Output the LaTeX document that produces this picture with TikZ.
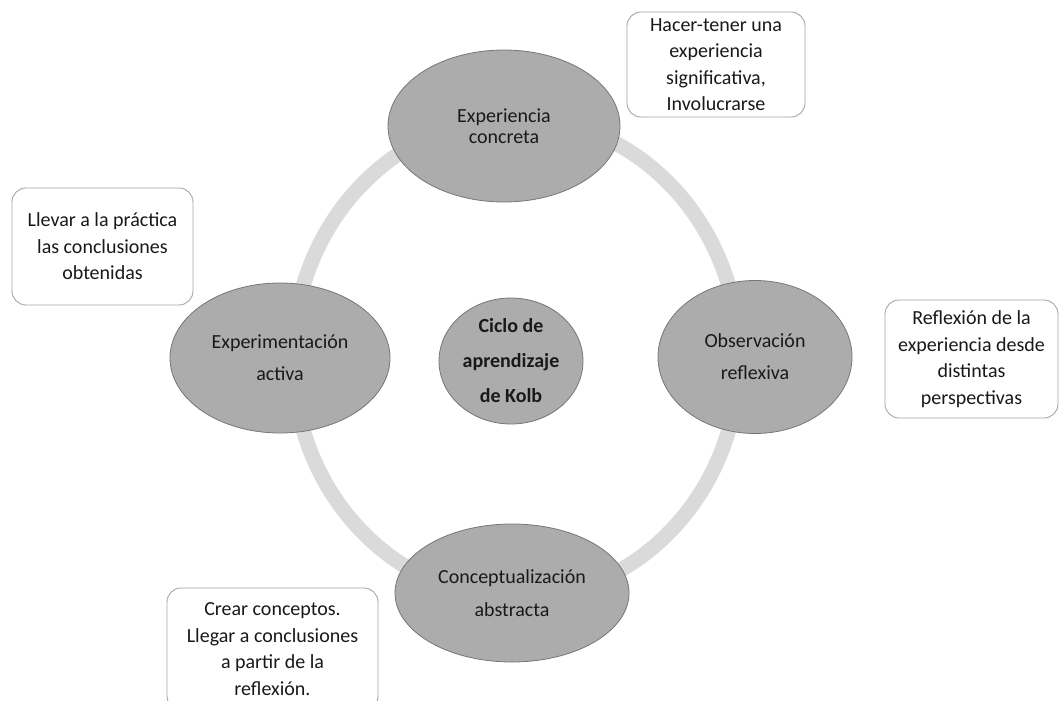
\documentclass[tikz,border=0pt]{standalone}
\usepackage{fontspec}
\setmainfont{Carlito}
\usetikzlibrary{shapes.geometric}
\definecolor{ringcol}{RGB}{218,218,218}
\definecolor{phasefill}{RGB}{172,172,172}
\definecolor{phaseline}{RGB}{118,118,118}
\definecolor{noteline}{RGB}{165,165,165}
\definecolor{textcol}{RGB}{25,25,25}
\begin{document}
\begin{tikzpicture}[x=1pt,y=-1pt,
  phase/.style={ellipse, draw=phaseline, fill=phasefill, line width=0.8pt,
    inner sep=0pt, align=center, text=textcol},
  note/.style={rectangle, draw=noteline, fill=white, rounded corners=14pt,
    line width=0.9pt, inner sep=0pt, align=center, text=textcol,
    font=\fontsize{20}{26.5}\selectfont},
]
\useasboundingbox (0,0) rectangle (1060,701);
\clip (0,0) rectangle (1060,701);

% cycle ring behind the phases
\coordinate (hub) at (516,358);
\draw[ringcol, line width=15pt] (hub) ellipse [x radius=223, y radius=240];

% the four phases and the centre
\node[phase, minimum width=232, minimum height=152,
  font=\fontsize{20}{21.5}\selectfont] (ce) at (504,126)
  {Experiencia\\concreta};
\node[phase, minimum width=194, minimum height=153,
  font=\fontsize{20}{32}\selectfont] (ro) at (755,357)
  {Observación\\reflexiva};
\node[phase, minimum width=234, minimum height=138,
  font=\fontsize{20}{33}\selectfont] (ac) at (512,593)
  {Conceptualización\\abstracta};
\node[phase, minimum width=220, minimum height=150,
  font=\fontsize{20}{32}\selectfont] (ae) at (280,358)
  {Experimentación\\activa};
\node[phase, minimum width=144, minimum height=126,
  font=\fontsize{20}{35}\selectfont\bfseries] (kolb) at (511,361)
  {Ciclo de\\aprendizaje\\de Kolb};

% explanatory notes
\node[note, minimum width=178, minimum height=105] (nce) at (716,64.5)
  {Hacer-tener una\\experiencia\\significativa,\\Involucrarse};
\node[note, minimum width=181, minimum height=117] (nae) at (102.5,246.5)
  {Llevar a la práctica\\las conclusiones\\obtenidas};
\node[note, minimum width=173, minimum height=118] (nro) at (971.5,359)
  {Reflexión de la\\experiencia desde\\distintas\\perspectivas};
\node[note, minimum width=211, minimum height=122] (nac) at (272.5,649)
  {Crear conceptos.\\Llegar a conclusiones\\a partir de la\\reflexión.};
\end{tikzpicture}
\end{document}
